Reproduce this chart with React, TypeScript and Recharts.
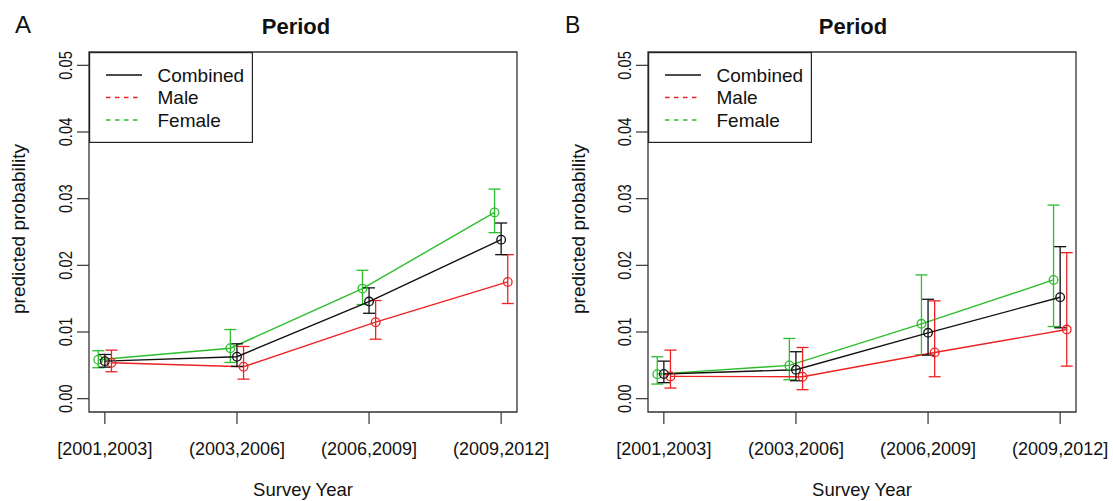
import React from 'react';
import { ComposedChart, Line, XAxis, YAxis, ErrorBar, ReferenceArea, Legend } from 'recharts';

// ---------- data ----------
const periods = ['[2001,2003]', '(2003,2006]', '(2006,2009]', '(2009,2012]'];
const periodPos = [1, 2, 3, 4];
const yTicks = [0, 0.01, 0.02, 0.03, 0.04, 0.05];
const panelTitle = 'Period';
const xTitle = 'Survey Year';
const yTitle = 'predicted probability';
const seriesNames = ['Combined', 'Male', 'Female'];

// Panel A
const aCombined = [0.00563, 0.00629, 0.01457, 0.02385];
const aCombinedLo = [0.00473, 0.00484, 0.01281, 0.0216];
const aCombinedHi = [0.00663, 0.00823, 0.01662, 0.02635];
const aMale = [0.00539, 0.00479, 0.01147, 0.01751];
const aMaleLo = [0.00404, 0.00293, 0.00892, 0.01427];
const aMaleHi = [0.00728, 0.00783, 0.01472, 0.0216];
const aFemale = [0.00584, 0.00757, 0.01651, 0.02794];
const aFemaleLo = [0.00464, 0.00543, 0.01412, 0.0249];
const aFemaleHi = [0.00719, 0.01037, 0.01925, 0.03144];

// Panel B
const bCombined = [0.0037, 0.00434, 0.00988, 0.01521];
const bCombinedLo = [0.0024, 0.00269, 0.00653, 0.01063];
const bCombinedHi = [0.00563, 0.00704, 0.01491, 0.0228];
const bMale = [0.00334, 0.00329, 0.00693, 0.01037];
const bMaleLo = [0.00159, 0.00135, 0.00329, 0.00488];
const bMaleHi = [0.00728, 0.00768, 0.01467, 0.0219];
const bFemale = [0.00368, 0.00499, 0.01123, 0.01781];
const bFemaleLo = [0.00219, 0.00284, 0.00659, 0.01082];
const bFemaleHi = [0.00629, 0.00903, 0.01856, 0.02904];

// ---------- styles ----------
const FONT = '"Liberation Sans", Arial, Helvetica, sans-serif';
const COLORS: Record<string, string> = { Combined: '#111111', Male: '#ee2222', Female: '#2dbd2d' };
const DODGE: Record<string, number> = { Combined: 0, Male: 0.05, Female: -0.05 };
const X_DOMAIN: [number, number] = [0.88, 4.12];
const Y_DOMAIN: [number, number] = [-0.002, 0.052];

function buildRows(name: string, vals: number[], lo: number[], hi: number[]) {
  return vals.map((v, i) => ({
    x: periodPos[i] + DODGE[name],
    y: v,
    err: [v - lo[i], hi[i] - v],
  }));
}

const YTick = (props: any) => {
  const { x, y, payload } = props;
  return (
    <text
      transform={`translate(${x},${y}) rotate(-90) scale(0.82,1)`}
      textAnchor="middle"
      fontSize={18}
      fill="#111"
      fontFamily={FONT}
    >
      {Number(payload.value).toFixed(2)}
    </text>
  );
};

const LegendBox = () => (
  <svg width={164} height={91} style={{ display: 'block' }}>
    <rect x={0.6} y={0.6} width={162.8} height={89.8} fill="#fff" stroke="#222" strokeWidth={1.2} />
    {seriesNames.map((n, i) => (
      <g key={n}>
        <line
          x1={17}
          x2={53}
          y1={23 + 22.5 * i}
          y2={23 + 22.5 * i}
          stroke={COLORS[n]}
          strokeWidth={1.3}
          strokeDasharray={n === 'Combined' ? undefined : '4.5 4.5'}
        />
        <text x={68.5} y={29.7 + 22.5 * i} fontSize={19} fill="#111" fontFamily={FONT}>
          {n}
        </text>
      </g>
    ))}
  </svg>
);

type PanelProps = {
  left: number;
  width: number;
  yAxisWidth: number;
  rightMargin: number;
  series: { name: string; vals: number[]; lo: number[]; hi: number[] }[];
};

const Panel = ({ left, width, yAxisWidth, rightMargin, series }: PanelProps) => {
  const order = ['Female', 'Male', 'Combined'];
  const sorted = order.map((n) => series.find((s) => s.name === n)!);
  return (
    <div style={{ position: 'absolute', left, top: 0 }}>
      <ComposedChart
        width={width}
        height={501}
        margin={{ top: 52, right: rightMargin, bottom: 0, left: 0 }}
      >
        <XAxis
          type="number"
          dataKey="x"
          domain={X_DOMAIN}
          allowDataOverflow
          ticks={periodPos}
          tickFormatter={(v: number) => periods[periodPos.indexOf(v)] ?? ''}
          height={89}
          tickSize={12}
          tickMargin={18}
          axisLine={false}
          tickLine={{ stroke: '#333', strokeWidth: 1.2 }}
          tick={{ fontSize: 18, fill: '#111', fontFamily: FONT }}
          interval={0}
          label={{
            content: (p: any) => {
              const vb = p.viewBox || {};
              return (
                <text
                  x={vb.x + vb.width / 2}
                  y={vb.y + 84}
                  textAnchor="middle"
                  fontSize={18.5}
                  fill="#111"
                  fontFamily={FONT}
                >
                  {xTitle}
                </text>
              );
            },
          }}
        />
        <YAxis
          type="number"
          domain={Y_DOMAIN}
          allowDataOverflow
          ticks={yTicks}
          width={yAxisWidth}
          tickSize={12}
          tickMargin={5}
          axisLine={false}
          tickLine={{ stroke: '#333', strokeWidth: 1.2 }}
          tick={<YTick />}
          interval={0}
          label={{
            content: (p: any) => {
              const vb = p.viewBox || {};
              const cx = vb.x + 25;
              const cy = vb.y + vb.height / 2 - 3;
              return (
                <text
                  transform={`translate(${cx},${cy}) rotate(-90)`}
                  textAnchor="middle"
                  fontSize={19}
                  fill="#111"
                  fontFamily={FONT}
                >
                  {yTitle}
                </text>
              );
            },
          }}
        />
        <ReferenceArea
          x1={X_DOMAIN[0]}
          x2={X_DOMAIN[1]}
          y1={Y_DOMAIN[0]}
          y2={Y_DOMAIN[1]}
          fill="none"
          fillOpacity={0}
          stroke="#333"
          strokeWidth={1.3}
        />
        {sorted.map((s) => (
          <Line
            key={s.name}
            name={s.name}
            data={buildRows(s.name, s.vals, s.lo, s.hi)}
            dataKey="y"
            type="linear"
            stroke={COLORS[s.name]}
            strokeWidth={1.4}
            dot={{ r: 4.3, stroke: COLORS[s.name], fill: 'none', strokeWidth: 1.3 }}
            activeDot={false}
            isAnimationActive={false}
          >
            <ErrorBar
              dataKey="err"
              direction="y"
              width={6}
              stroke={COLORS[s.name]}
              strokeWidth={1.3}
              isAnimationActive={false}
            />
          </Line>
        ))}
        <Legend
          layout="vertical"
          align="center"
          verticalAlign="middle"
          content={() => <LegendBox />}
          wrapperStyle={{ position: 'absolute', left: yAxisWidth, top: 52, width: 164, height: 91 }}
        />
      </ComposedChart>
    </div>
  );
};

export default function App() {
  return (
    <div
      style={{
        position: 'absolute',
        left: 0,
        top: 0,
        width: 1113,
        height: 501,
        background: '#fff',
        overflow: 'hidden',
        fontFamily: FONT,
      }}
    >
      <Panel
        left={0}
        width={558}
        yAxisWidth={89}
        rightMargin={41}
        series={[
          { name: 'Combined', vals: aCombined, lo: aCombinedLo, hi: aCombinedHi },
          { name: 'Male', vals: aMale, lo: aMaleLo, hi: aMaleHi },
          { name: 'Female', vals: aFemale, lo: aFemaleLo, hi: aFemaleHi },
        ]}
      />
      <Panel
        left={560}
        width={553}
        yAxisWidth={88}
        rightMargin={37}
        series={[
          { name: 'Combined', vals: bCombined, lo: bCombinedLo, hi: bCombinedHi },
          { name: 'Male', vals: bMale, lo: bMaleLo, hi: bMaleHi },
          { name: 'Female', vals: bFemale, lo: bFemaleLo, hi: bFemaleHi },
        ]}
      />
      <svg
        width={1113}
        height={501}
        style={{ position: 'absolute', left: 0, top: 0, pointerEvents: 'none' }}
      >
        <text x={15} y={33} fontSize={24} fill="#111" fontFamily={FONT}>A</text>
        <text x={565} y={33} fontSize={23} fill="#111" fontFamily={FONT}>B</text>
        <text x={296} y={34} textAnchor="middle" fontSize={22} fontWeight="bold" fill="#111" fontFamily={FONT}>
          {panelTitle}
        </text>
        <text x={853} y={34} textAnchor="middle" fontSize={22} fontWeight="bold" fill="#111" fontFamily={FONT}>
          {panelTitle}
        </text>
      </svg>
    </div>
  );
}
